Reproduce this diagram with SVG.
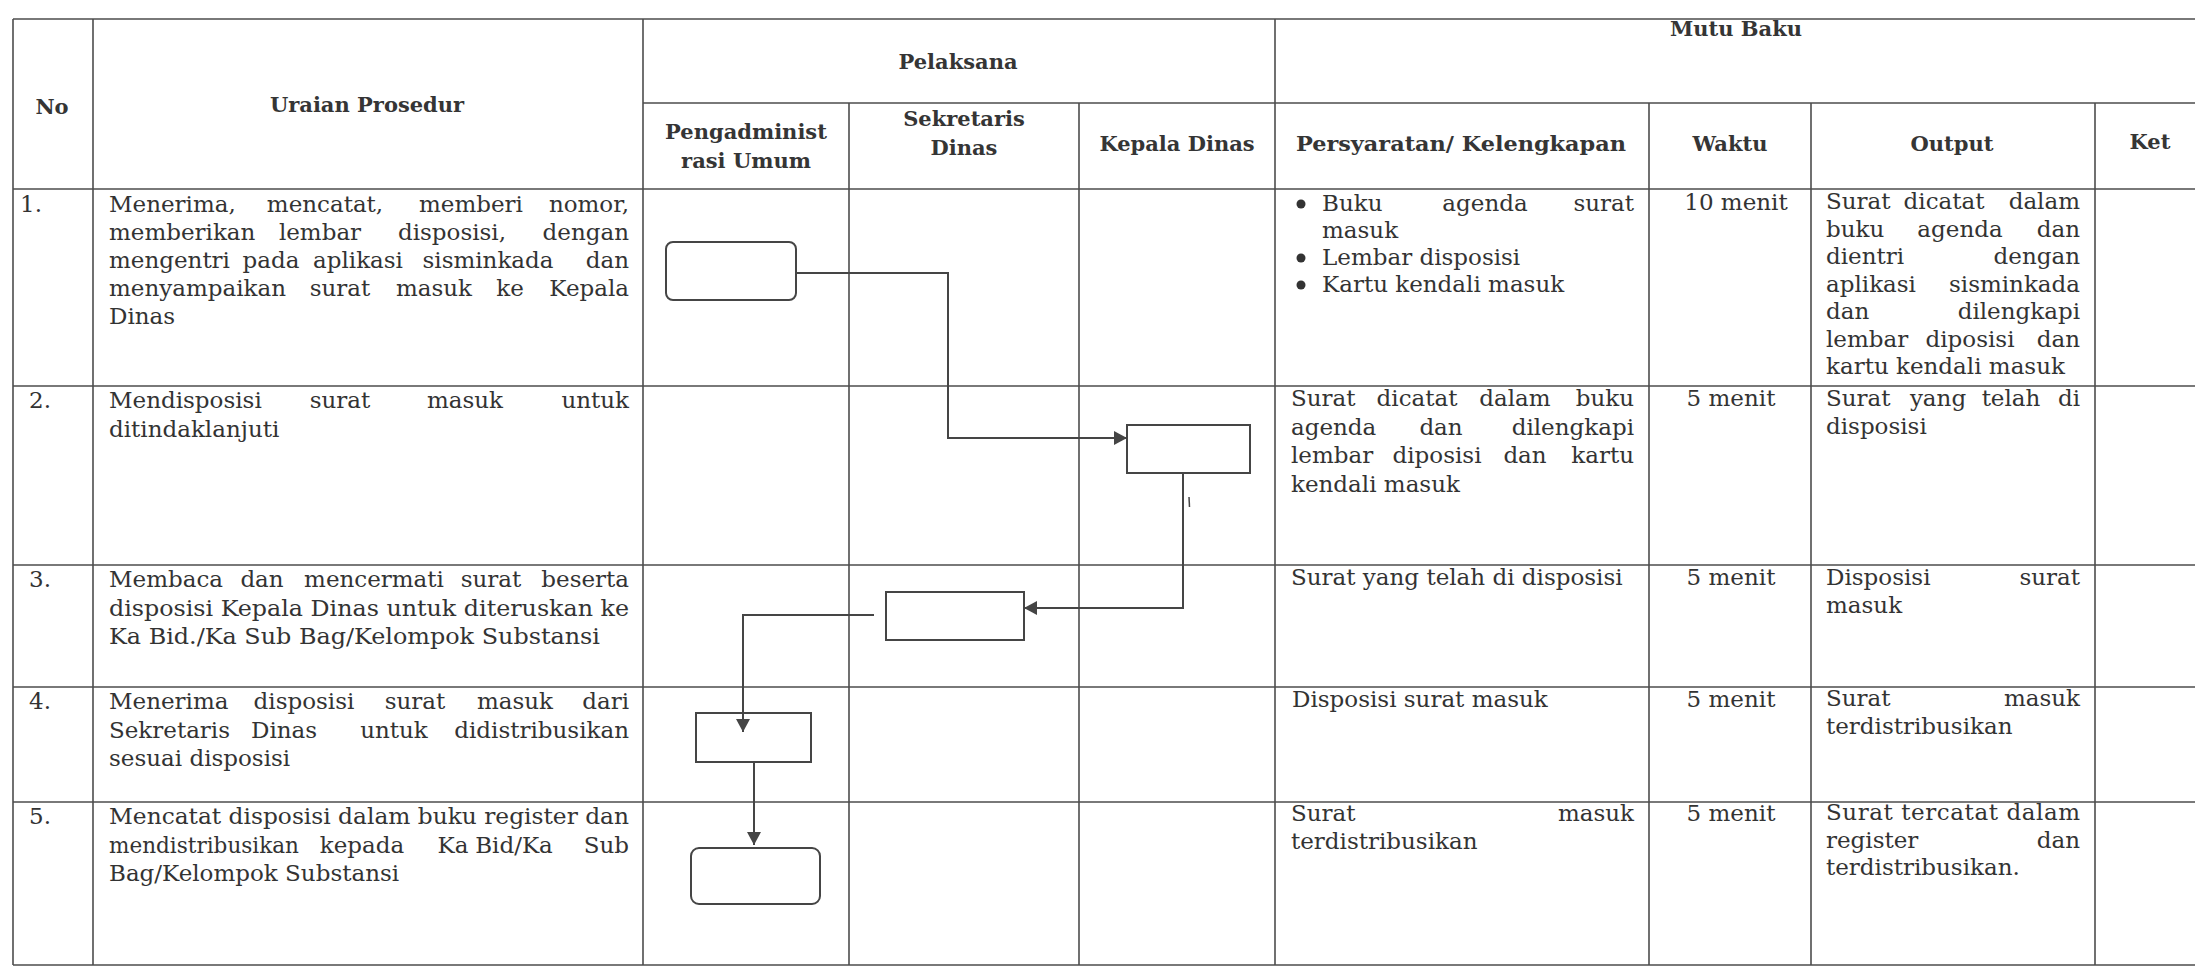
<svg xmlns="http://www.w3.org/2000/svg" width="2195" height="967" viewBox="0 0 2195 967">
  <style>
    .grid line { stroke: #4d4d4d; stroke-width: 1.6; }
    .hd { font-family: "DejaVu Serif", "Liberation Serif", serif; font-weight: bold; font-size: 21px; fill: #353535; text-anchor: middle; }
    .t { font-family: "DejaVu Serif", "Liberation Serif", serif; font-size: 23px; fill: #333333; }
    .c { text-anchor: middle; }
    .e { text-anchor: end; }
    .box { fill: #ffffff; stroke: #454545; stroke-width: 2; }
    .conn { fill: none; stroke: #454545; stroke-width: 2; }
    .dot { fill: #333333; }
  </style>
  <defs>
    <marker id="arrow" markerUnits="userSpaceOnUse" markerWidth="14" markerHeight="14" refX="13" refY="7" orient="auto">
      <path d="M0,0 L13,7 L0,14 Z" fill="#454545"/>
    </marker>
  </defs>

  <rect x="0" y="0" width="2195" height="967" fill="#ffffff"/>

  <!-- table rules -->
  <g id="grid" class="grid">
    <line x1="13" y1="19" x2="2195" y2="19"/>
    <line x1="643" y1="103" x2="2195" y2="103"/>
    <line x1="13" y1="189" x2="2195" y2="189"/>
    <line x1="13" y1="386" x2="2195" y2="386"/>
    <line x1="13" y1="565" x2="2195" y2="565"/>
    <line x1="13" y1="687" x2="2195" y2="687"/>
    <line x1="13" y1="802" x2="2195" y2="802"/>
    <line x1="13" y1="965" x2="2195" y2="965"/>
    <line x1="13" y1="19" x2="13" y2="965"/>
    <line x1="93" y1="19" x2="93" y2="965"/>
    <line x1="643" y1="19" x2="643" y2="965"/>
    <line x1="849" y1="103" x2="849" y2="965"/>
    <line x1="1079" y1="103" x2="1079" y2="965"/>
    <line x1="1275" y1="19" x2="1275" y2="965"/>
    <line x1="1649" y1="103" x2="1649" y2="965"/>
    <line x1="1811" y1="103" x2="1811" y2="965"/>
    <line x1="2095" y1="103" x2="2095" y2="965"/>
  </g>

  <!-- column headings -->
  <g id="header">
    <text class="hd" x="52" y="114">No</text>
    <text class="hd" x="367" y="112">Uraian Prosedur</text>
    <text class="hd" x="958" y="69">Pelaksana</text>
    <text class="hd" x="1736" y="36">Mutu Baku</text>
    <text class="hd" x="746" y="139">Pengadminist</text>
    <text class="hd" x="746" y="168">rasi Umum</text>
    <text class="hd" x="964" y="126">Sekretaris</text>
    <text class="hd" x="964" y="155">Dinas</text>
    <text class="hd" x="1177" y="151">Kepala Dinas</text>
    <text class="hd" x="1461" y="151" textLength="330" lengthAdjust="spacingAndGlyphs">Persyaratan/ Kelengkapan</text>
    <text class="hd" x="1730" y="151">Waktu</text>
    <text class="hd" x="1952" y="151">Output</text>
    <text class="hd" x="2150" y="149">Ket</text>
  </g>

  <!-- step 1 -->
  <g id="step-1">
    <text class="t" x="20" y="212">1.</text>
    <text class="t" x="109" y="212">Menerima,</text>
    <text class="t c" x="325" y="212">mencatat,</text>
    <text class="t c" x="471" y="212">memberi</text>
    <text class="t e" x="629" y="212">nomor,</text>

    <text class="t" x="109" y="240">memberikan</text>
    <text class="t c" x="320" y="240">lembar</text>
    <text class="t c" x="452" y="240">disposisi,</text>
    <text class="t e" x="629" y="240">dengan</text>

    <text class="t" x="109" y="268">mengentri</text>
    <text class="t c" x="271" y="268">pada</text>
    <text class="t c" x="358" y="268">aplikasi</text>
    <text class="t c" x="488" y="268">sisminkada</text>
    <text class="t e" x="629" y="268">dan</text>

    <text class="t" x="109" y="296">menyampaikan</text>
    <text class="t c" x="340" y="296">surat</text>
    <text class="t c" x="434" y="296">masuk</text>
    <text class="t c" x="510" y="296">ke</text>
    <text class="t e" x="629" y="296">Kepala</text>
    <text class="t" x="109" y="324">Dinas</text>

    <circle class="dot" cx="1301" cy="204" r="4.5"/>
    <text class="t" x="1322" y="211">Buku</text>
    <text class="t c" x="1485" y="211">agenda</text>
    <text class="t e" x="1634" y="211">surat</text>
    <text class="t" x="1322" y="238">masuk</text>
    <circle class="dot" cx="1301" cy="258" r="4.5"/>
    <text class="t" x="1322" y="265">Lembar disposisi</text>
    <circle class="dot" cx="1301" cy="285" r="4.5"/>
    <text class="t" x="1322" y="292">Kartu kendali masuk</text>

    <text class="t c" x="1736" y="210">10 menit</text>

    <text class="t" x="1826" y="209">Surat</text>
    <text class="t c" x="1944" y="209">dicatat</text>
    <text class="t e" x="2080" y="209">dalam</text>
    <text class="t" x="1826" y="236.5">buku</text>
    <text class="t c" x="1960" y="236.5">agenda</text>
    <text class="t e" x="2080" y="236.5">dan</text>
    <text class="t" x="1826" y="264">dientri</text>
    <text class="t e" x="2080" y="264">dengan</text>
    <text class="t" x="1826" y="291.5">aplikasi</text>
    <text class="t e" x="2080" y="291.5">sisminkada</text>
    <text class="t" x="1826" y="319">dan</text>
    <text class="t e" x="2080" y="319">dilengkapi</text>
    <text class="t" x="1826" y="346.5">lembar</text>
    <text class="t c" x="1970" y="346.5">diposisi</text>
    <text class="t e" x="2080" y="346.5">dan</text>
    <text class="t" x="1826" y="374">kartu kendali masuk</text>
  </g>

  <!-- step 2 -->
  <g id="step-2">
    <text class="t" x="29" y="408">2.</text>
    <text class="t" x="109" y="408">Mendisposisi</text>
    <text class="t c" x="340" y="408">surat</text>
    <text class="t c" x="465" y="408">masuk</text>
    <text class="t e" x="629" y="408">untuk</text>
    <text class="t" x="109" y="437">ditindaklanjuti</text>

    <text class="t" x="1291" y="406">Surat</text>
    <text class="t c" x="1417" y="406">dicatat</text>
    <text class="t c" x="1515" y="406">dalam</text>
    <text class="t e" x="1634" y="406">buku</text>
    <text class="t" x="1291" y="434.5">agenda</text>
    <text class="t c" x="1441" y="434.5">dan</text>
    <text class="t e" x="1634" y="434.5">dilengkapi</text>
    <text class="t" x="1291" y="463">lembar</text>
    <text class="t c" x="1437" y="463">diposisi</text>
    <text class="t c" x="1525" y="463">dan</text>
    <text class="t e" x="1634" y="463">kartu</text>
    <text class="t" x="1291" y="491.5">kendali masuk</text>

    <text class="t c" x="1731" y="406">5 menit</text>

    <text class="t" x="1826" y="406">Surat</text>
    <text class="t c" x="1938" y="406">yang</text>
    <text class="t c" x="2011" y="406">telah</text>
    <text class="t e" x="2080" y="406">di</text>
    <text class="t" x="1826" y="434">disposisi</text>
  </g>

  <!-- step 3 -->
  <g id="step-3">
    <text class="t" x="29" y="587">3.</text>
    <text class="t" x="109" y="587">Membaca</text>
    <text class="t c" x="262" y="587">dan</text>
    <text class="t c" x="374" y="587">mencermati</text>
    <text class="t c" x="491" y="587">surat</text>
    <text class="t e" x="629" y="587">beserta</text>
    <text class="t" x="109" y="616" textLength="520" lengthAdjust="spacingAndGlyphs">disposisi Kepala Dinas untuk diteruskan ke</text>
    <text class="t" x="109" y="644" textLength="491" lengthAdjust="spacingAndGlyphs">Ka Bid./Ka Sub Bag/Kelompok Substansi</text>

    <text class="t" x="1291" y="585">Surat yang telah di disposisi</text>
    <text class="t c" x="1731" y="585">5 menit</text>
    <text class="t" x="1826" y="585">Disposisi</text>
    <text class="t e" x="2080" y="585">surat</text>
    <text class="t" x="1826" y="613">masuk</text>
  </g>

  <!-- step 4 -->
  <g id="step-4">
    <text class="t" x="29" y="709">4.</text>
    <text class="t" x="109" y="709">Menerima</text>
    <text class="t c" x="304" y="709">disposisi</text>
    <text class="t c" x="415" y="709">surat</text>
    <text class="t c" x="515" y="709">masuk</text>
    <text class="t e" x="629" y="709">dari</text>
    <text class="t" x="109" y="738">Sekretaris</text>
    <text class="t c" x="284" y="738">Dinas</text>
    <text class="t c" x="394" y="738">untuk</text>
    <text class="t e" x="629" y="738">didistribusikan</text>
    <text class="t" x="109" y="766">sesuai disposisi</text>

    <text class="t" x="1292" y="707">Disposisi surat masuk</text>
    <text class="t c" x="1731" y="707">5 menit</text>
    <text class="t" x="1826" y="706">Surat</text>
    <text class="t e" x="2080" y="706">masuk</text>
    <text class="t" x="1826" y="734">terdistribusikan</text>
  </g>

  <!-- step 5 -->
  <g id="step-5">
    <text class="t" x="29" y="824">5.</text>
    <text class="t" x="109" y="824" textLength="520" lengthAdjust="spacingAndGlyphs">Mencatat disposisi dalam buku register dan</text>
    <text class="t" x="109" y="853" textLength="190" lengthAdjust="spacingAndGlyphs">mendistribusikan</text>
    <text class="t c" x="362" y="853">kepada</text>
    <text class="t c" x="453" y="853">Ka</text>
    <text class="t c" x="514" y="853">Bid/Ka</text>
    <text class="t e" x="629" y="853">Sub</text>
    <text class="t" x="109" y="881">Bag/Kelompok Substansi</text>

    <text class="t" x="1291" y="821">Surat</text>
    <text class="t e" x="1634" y="821">masuk</text>
    <text class="t" x="1291" y="849">terdistribusikan</text>
    <text class="t c" x="1731" y="821">5 menit</text>
    <text class="t" x="1826" y="820" textLength="254" lengthAdjust="spacing">Surat tercatat dalam</text>
    <text class="t" x="1826" y="848">register</text>
    <text class="t e" x="2080" y="848">dan</text>
    <text class="t" x="1826" y="875">terdistribusikan.</text>
  </g>

  <!-- flow symbols -->
  <g id="node-1"><rect class="box" x="666" y="242" width="130" height="58" rx="7"/></g>
  <g id="node-2"><rect class="box" x="1127" y="425" width="123" height="48"/></g>
  <g id="node-3"><rect class="box" x="886" y="592" width="138" height="48"/></g>
  <g id="node-4"><rect class="box" x="696" y="713" width="115" height="49"/></g>
  <g id="node-5"><rect class="box" x="691" y="848" width="129" height="56" rx="8"/></g>

  <!-- flow lines -->
  <g id="connectors" class="conn">
    <path d="M796,273 H948 V438 H1127" marker-end="url(#arrow)"/>
    <path d="M1183,473 V608 H1024" marker-end="url(#arrow)"/>
    <path d="M874,615 H743 V732" marker-end="url(#arrow)"/>
    <path d="M754,762 V845" marker-end="url(#arrow)"/>
    <line x1="1189" y1="497" x2="1189.5" y2="507" stroke-width="1.5"/>
  </g>
</svg>
